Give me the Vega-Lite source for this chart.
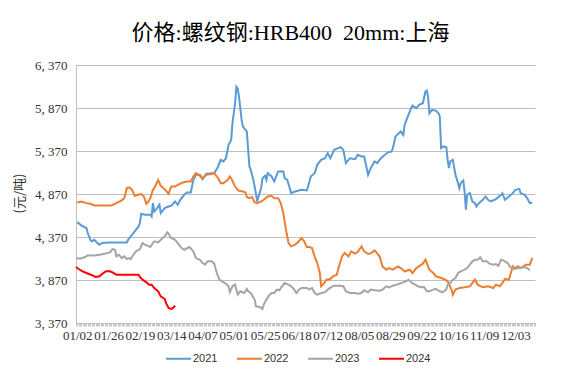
{
"$schema": "https://vega.github.io/schema/vega-lite/v6.json",
"width": 459, "height": 258,
"autosize": {"type": "none"},
"padding": {"left": 76, "top": 65, "right": 44, "bottom": 52},
"background": "white",
"title": {"text": "价格:螺纹钢:HRB400\u00a0\u00a020mm:上海", "font": "Liberation Serif, Noto Sans CJK SC", "fontSize": 22, "fontWeight": "normal", "color": "#000000", "anchor": "middle", "frame": "group", "offset": 14, "dx": -15},
"config": {"view": {"stroke": null}},
"data": {"values": [
{"year":"2021","md":"2024-01-02","price":4543},{"year":"2021","md":"2024-01-05","price":4505},{"year":"2021","md":"2024-01-09","price":4474},{"year":"2021","md":"2024-01-10","price":4416},{"year":"2021","md":"2024-01-12","price":4338},{"year":"2021","md":"2024-01-13","price":4319},{"year":"2021","md":"2024-01-15","price":4338},{"year":"2021","md":"2024-01-17","price":4307},{"year":"2021","md":"2024-01-19","price":4280},{"year":"2021","md":"2024-01-21","price":4300},{"year":"2021","md":"2024-01-27","price":4307},{"year":"2021","md":"2024-02-09","price":4307},{"year":"2021","md":"2024-02-10","price":4338},{"year":"2021","md":"2024-02-14","price":4416},{"year":"2021","md":"2024-02-18","price":4493},{"year":"2021","md":"2024-02-19","price":4532},{"year":"2021","md":"2024-02-20","price":4640},{"year":"2021","md":"2024-02-23","price":4629},{"year":"2021","md":"2024-02-27","price":4629},{"year":"2021","md":"2024-02-28","price":4609},{"year":"2021","md":"2024-02-29","price":4764},{"year":"2021","md":"2024-03-01","price":4667},{"year":"2021","md":"2024-03-03","price":4700},{"year":"2021","md":"2024-03-05","price":4745},{"year":"2021","md":"2024-03-06","price":4648},{"year":"2021","md":"2024-03-09","price":4706},{"year":"2021","md":"2024-03-12","price":4725},{"year":"2021","md":"2024-03-14","price":4733},{"year":"2021","md":"2024-03-17","price":4783},{"year":"2021","md":"2024-03-19","price":4745},{"year":"2021","md":"2024-03-21","price":4803},{"year":"2021","md":"2024-03-24","price":4861},{"year":"2021","md":"2024-03-26","price":4888},{"year":"2021","md":"2024-03-29","price":4888},{"year":"2021","md":"2024-03-31","price":5035},{"year":"2021","md":"2024-04-02","price":5093},{"year":"2021","md":"2024-04-05","price":5093},{"year":"2021","md":"2024-04-07","price":5043},{"year":"2021","md":"2024-04-10","price":5105},{"year":"2021","md":"2024-04-14","price":5112},{"year":"2021","md":"2024-04-16","price":5112},{"year":"2021","md":"2024-04-19","price":5190},{"year":"2021","md":"2024-04-21","price":5267},{"year":"2021","md":"2024-04-23","price":5248},{"year":"2021","md":"2024-04-25","price":5286},{"year":"2021","md":"2024-04-27","price":5441},{"year":"2021","md":"2024-04-29","price":5499},{"year":"2021","md":"2024-04-30","price":5693},{"year":"2021","md":"2024-05-02","price":5925},{"year":"2021","md":"2024-05-03","price":6118},{"year":"2021","md":"2024-05-04","price":6099},{"year":"2021","md":"2024-05-05","price":6002},{"year":"2021","md":"2024-05-07","price":5731},{"year":"2021","md":"2024-05-08","price":5654},{"year":"2021","md":"2024-05-10","price":5615},{"year":"2021","md":"2024-05-11","price":5596},{"year":"2021","md":"2024-05-13","price":5190},{"year":"2021","md":"2024-05-14","price":5151},{"year":"2021","md":"2024-05-16","price":5035},{"year":"2021","md":"2024-05-17","price":4957},{"year":"2021","md":"2024-05-19","price":4783},{"year":"2021","md":"2024-05-20","price":4841},{"year":"2021","md":"2024-05-22","price":4938},{"year":"2021","md":"2024-05-23","price":5054},{"year":"2021","md":"2024-05-25","price":5081},{"year":"2021","md":"2024-05-26","price":5035},{"year":"2021","md":"2024-05-27","price":5112},{"year":"2021","md":"2024-05-30","price":5074},{"year":"2021","md":"2024-06-01","price":5016},{"year":"2021","md":"2024-06-04","price":5132},{"year":"2021","md":"2024-06-08","price":5132},{"year":"2021","md":"2024-06-09","price":5054},{"year":"2021","md":"2024-06-11","price":5035},{"year":"2021","md":"2024-06-14","price":4880},{"year":"2021","md":"2024-06-17","price":4899},{"year":"2021","md":"2024-06-22","price":4919},{"year":"2021","md":"2024-06-26","price":4911},{"year":"2021","md":"2024-06-27","price":4957},{"year":"2021","md":"2024-06-29","price":5074},{"year":"2021","md":"2024-07-02","price":5112},{"year":"2021","md":"2024-07-04","price":5209},{"year":"2021","md":"2024-07-07","price":5267},{"year":"2021","md":"2024-07-10","price":5286},{"year":"2021","md":"2024-07-12","price":5345},{"year":"2021","md":"2024-07-14","price":5286},{"year":"2021","md":"2024-07-17","price":5383},{"year":"2021","md":"2024-07-20","price":5403},{"year":"2021","md":"2024-07-22","price":5414},{"year":"2021","md":"2024-07-24","price":5383},{"year":"2021","md":"2024-07-26","price":5229},{"year":"2021","md":"2024-07-29","price":5286},{"year":"2021","md":"2024-08-02","price":5275},{"year":"2021","md":"2024-08-04","price":5325},{"year":"2021","md":"2024-08-07","price":5306},{"year":"2021","md":"2024-08-09","price":5306},{"year":"2021","md":"2024-08-12","price":5093},{"year":"2021","md":"2024-08-14","price":5171},{"year":"2021","md":"2024-08-17","price":5248},{"year":"2021","md":"2024-08-19","price":5229},{"year":"2021","md":"2024-08-22","price":5290},{"year":"2021","md":"2024-08-27","price":5352},{"year":"2021","md":"2024-08-30","price":5364},{"year":"2021","md":"2024-08-31","price":5403},{"year":"2021","md":"2024-09-02","price":5538},{"year":"2021","md":"2024-09-04","price":5569},{"year":"2021","md":"2024-09-06","price":5596},{"year":"2021","md":"2024-09-08","price":5557},{"year":"2021","md":"2024-09-09","price":5673},{"year":"2021","md":"2024-09-11","price":5751},{"year":"2021","md":"2024-09-14","price":5867},{"year":"2021","md":"2024-09-15","price":5898},{"year":"2021","md":"2024-09-18","price":5867},{"year":"2021","md":"2024-09-20","price":5906},{"year":"2021","md":"2024-09-23","price":5925},{"year":"2021","md":"2024-09-25","price":6060},{"year":"2021","md":"2024-09-26","price":6072},{"year":"2021","md":"2024-09-27","price":6002},{"year":"2021","md":"2024-09-28","price":5809},{"year":"2021","md":"2024-09-30","price":5848},{"year":"2021","md":"2024-10-03","price":5840},{"year":"2021","md":"2024-10-05","price":5809},{"year":"2021","md":"2024-10-06","price":5770},{"year":"2021","md":"2024-10-07","price":5403},{"year":"2021","md":"2024-10-09","price":5423},{"year":"2021","md":"2024-10-11","price":5414},{"year":"2021","md":"2024-10-12","price":5267},{"year":"2021","md":"2024-10-13","price":5171},{"year":"2021","md":"2024-10-14","price":5248},{"year":"2021","md":"2024-10-16","price":5267},{"year":"2021","md":"2024-10-18","price":5093},{"year":"2021","md":"2024-10-20","price":4996},{"year":"2021","md":"2024-10-21","price":4938},{"year":"2021","md":"2024-10-22","price":4996},{"year":"2021","md":"2024-10-24","price":5027},{"year":"2021","md":"2024-10-25","price":4899},{"year":"2021","md":"2024-10-26","price":4687},{"year":"2021","md":"2024-10-27","price":4861},{"year":"2021","md":"2024-10-29","price":4880},{"year":"2021","md":"2024-10-31","price":4783},{"year":"2021","md":"2024-11-02","price":4764},{"year":"2021","md":"2024-11-03","price":4725},{"year":"2021","md":"2024-11-05","price":4764},{"year":"2021","md":"2024-11-08","price":4803},{"year":"2021","md":"2024-11-10","price":4841},{"year":"2021","md":"2024-11-12","price":4803},{"year":"2021","md":"2024-11-14","price":4783},{"year":"2021","md":"2024-11-17","price":4803},{"year":"2021","md":"2024-11-19","price":4822},{"year":"2021","md":"2024-11-22","price":4861},{"year":"2021","md":"2024-11-23","price":4880},{"year":"2021","md":"2024-11-25","price":4803},{"year":"2021","md":"2024-11-28","price":4841},{"year":"2021","md":"2024-12-01","price":4880},{"year":"2021","md":"2024-12-03","price":4919},{"year":"2021","md":"2024-12-06","price":4930},{"year":"2021","md":"2024-12-07","price":4880},{"year":"2021","md":"2024-12-10","price":4861},{"year":"2021","md":"2024-12-12","price":4822},{"year":"2021","md":"2024-12-14","price":4764},{"year":"2021","md":"2024-12-16","price":4771},
{"year":"2022","md":"2024-01-02","price":4772},{"year":"2022","md":"2024-01-05","price":4783},{"year":"2022","md":"2024-01-09","price":4764},{"year":"2022","md":"2024-01-12","price":4756},{"year":"2022","md":"2024-01-15","price":4737},{"year":"2022","md":"2024-01-28","price":4737},{"year":"2022","md":"2024-02-01","price":4764},{"year":"2022","md":"2024-02-05","price":4795},{"year":"2022","md":"2024-02-07","price":4822},{"year":"2022","md":"2024-02-09","price":4938},{"year":"2022","md":"2024-02-11","price":4946},{"year":"2022","md":"2024-02-13","price":4919},{"year":"2022","md":"2024-02-15","price":4849},{"year":"2022","md":"2024-02-18","price":4861},{"year":"2022","md":"2024-02-20","price":4872},{"year":"2022","md":"2024-02-22","price":4841},{"year":"2022","md":"2024-02-24","price":4756},{"year":"2022","md":"2024-02-25","price":4772},{"year":"2022","md":"2024-02-27","price":4822},{"year":"2022","md":"2024-02-29","price":4919},{"year":"2022","md":"2024-03-01","price":4938},{"year":"2022","md":"2024-03-04","price":5035},{"year":"2022","md":"2024-03-06","price":4965},{"year":"2022","md":"2024-03-09","price":4926},{"year":"2022","md":"2024-03-12","price":4872},{"year":"2022","md":"2024-03-14","price":4957},{"year":"2022","md":"2024-03-17","price":4957},{"year":"2022","md":"2024-03-19","price":4977},{"year":"2022","md":"2024-03-23","price":5004},{"year":"2022","md":"2024-03-26","price":5016},{"year":"2022","md":"2024-03-29","price":5016},{"year":"2022","md":"2024-03-31","price":5074},{"year":"2022","md":"2024-04-02","price":5112},{"year":"2022","md":"2024-04-05","price":5081},{"year":"2022","md":"2024-04-07","price":5054},{"year":"2022","md":"2024-04-10","price":5093},{"year":"2022","md":"2024-04-14","price":5101},{"year":"2022","md":"2024-04-16","price":5112},{"year":"2022","md":"2024-04-19","price":5054},{"year":"2022","md":"2024-04-21","price":4996},{"year":"2022","md":"2024-04-23","price":4996},{"year":"2022","md":"2024-04-26","price":5030},{"year":"2022","md":"2024-04-28","price":5074},{"year":"2022","md":"2024-04-29","price":5054},{"year":"2022","md":"2024-05-02","price":4957},{"year":"2022","md":"2024-05-04","price":4919},{"year":"2022","md":"2024-05-05","price":4907},{"year":"2022","md":"2024-05-08","price":4899},{"year":"2022","md":"2024-05-10","price":4888},{"year":"2022","md":"2024-05-11","price":4834},{"year":"2022","md":"2024-05-13","price":4822},{"year":"2022","md":"2024-05-15","price":4834},{"year":"2022","md":"2024-05-17","price":4772},{"year":"2022","md":"2024-05-19","price":4764},{"year":"2022","md":"2024-05-22","price":4783},{"year":"2022","md":"2024-05-24","price":4803},{"year":"2022","md":"2024-05-27","price":4841},{"year":"2022","md":"2024-05-30","price":4849},{"year":"2022","md":"2024-06-01","price":4822},{"year":"2022","md":"2024-06-04","price":4822},{"year":"2022","md":"2024-06-06","price":4764},{"year":"2022","md":"2024-06-08","price":4648},{"year":"2022","md":"2024-06-10","price":4454},{"year":"2022","md":"2024-06-12","price":4300},{"year":"2022","md":"2024-06-14","price":4261},{"year":"2022","md":"2024-06-17","price":4280},{"year":"2022","md":"2024-06-19","price":4307},{"year":"2022","md":"2024-06-22","price":4358},{"year":"2022","md":"2024-06-24","price":4319},{"year":"2022","md":"2024-06-26","price":4253},{"year":"2022","md":"2024-06-28","price":4253},{"year":"2022","md":"2024-06-30","price":4241},{"year":"2022","md":"2024-07-02","price":4145},{"year":"2022","md":"2024-07-04","price":4067},{"year":"2022","md":"2024-07-06","price":3951},{"year":"2022","md":"2024-07-07","price":3797},{"year":"2022","md":"2024-07-09","price":3827},{"year":"2022","md":"2024-07-11","price":3874},{"year":"2022","md":"2024-07-14","price":3882},{"year":"2022","md":"2024-07-16","price":3913},{"year":"2022","md":"2024-07-19","price":3932},{"year":"2022","md":"2024-07-21","price":4048},{"year":"2022","md":"2024-07-23","price":4145},{"year":"2022","md":"2024-07-25","price":4184},{"year":"2022","md":"2024-07-28","price":4145},{"year":"2022","md":"2024-07-30","price":4203},{"year":"2022","md":"2024-08-02","price":4176},{"year":"2022","md":"2024-08-04","price":4195},{"year":"2022","md":"2024-08-07","price":4261},{"year":"2022","md":"2024-08-09","price":4203},{"year":"2022","md":"2024-08-12","price":4172},{"year":"2022","md":"2024-08-14","price":4180},{"year":"2022","md":"2024-08-17","price":4214},{"year":"2022","md":"2024-08-19","price":4180},{"year":"2022","md":"2024-08-21","price":4140},{"year":"2022","md":"2024-08-23","price":4029},{"year":"2022","md":"2024-08-26","price":3990},{"year":"2022","md":"2024-08-28","price":4009},{"year":"2022","md":"2024-08-31","price":3990},{"year":"2022","md":"2024-09-04","price":4029},{"year":"2022","md":"2024-09-06","price":4009},{"year":"2022","md":"2024-09-09","price":3971},{"year":"2022","md":"2024-09-13","price":3990},{"year":"2022","md":"2024-09-15","price":3951},{"year":"2022","md":"2024-09-18","price":4009},{"year":"2022","md":"2024-09-20","price":4029},{"year":"2022","md":"2024-09-23","price":4060},{"year":"2022","md":"2024-09-25","price":4106},{"year":"2022","md":"2024-09-27","price":4029},{"year":"2022","md":"2024-09-28","price":3990},{"year":"2022","md":"2024-10-01","price":3951},{"year":"2022","md":"2024-10-03","price":3913},{"year":"2022","md":"2024-10-07","price":3893},{"year":"2022","md":"2024-10-10","price":3874},{"year":"2022","md":"2024-10-12","price":3855},{"year":"2022","md":"2024-10-15","price":3758},{"year":"2022","md":"2024-10-16","price":3700},{"year":"2022","md":"2024-10-18","price":3758},{"year":"2022","md":"2024-10-21","price":3777},{"year":"2022","md":"2024-10-25","price":3785},{"year":"2022","md":"2024-10-29","price":3797},{"year":"2022","md":"2024-11-02","price":3874},{"year":"2022","md":"2024-11-04","price":3816},{"year":"2022","md":"2024-11-08","price":3785},{"year":"2022","md":"2024-11-12","price":3797},{"year":"2022","md":"2024-11-16","price":3777},{"year":"2022","md":"2024-11-18","price":3816},{"year":"2022","md":"2024-11-21","price":3797},{"year":"2022","md":"2024-11-23","price":3835},{"year":"2022","md":"2024-11-25","price":3882},{"year":"2022","md":"2024-11-28","price":3874},{"year":"2022","md":"2024-12-01","price":4029},{"year":"2022","md":"2024-12-02","price":4009},{"year":"2022","md":"2024-12-05","price":4029},{"year":"2022","md":"2024-12-07","price":4009},{"year":"2022","md":"2024-12-11","price":4048},{"year":"2022","md":"2024-12-14","price":4048},{"year":"2022","md":"2024-12-15","price":4087},{"year":"2022","md":"2024-12-16","price":4126},
{"year":"2023","md":"2024-01-01","price":4125},{"year":"2023","md":"2024-01-04","price":4118},{"year":"2023","md":"2024-01-08","price":4137},{"year":"2023","md":"2024-01-10","price":4156},{"year":"2023","md":"2024-01-15","price":4156},{"year":"2023","md":"2024-01-19","price":4164},{"year":"2023","md":"2024-01-23","price":4176},{"year":"2023","md":"2024-01-27","price":4191},{"year":"2023","md":"2024-01-29","price":4230},{"year":"2023","md":"2024-01-31","price":4222},{"year":"2023","md":"2024-02-01","price":4145},{"year":"2023","md":"2024-02-03","price":4164},{"year":"2023","md":"2024-02-05","price":4125},{"year":"2023","md":"2024-02-07","price":4145},{"year":"2023","md":"2024-02-09","price":4114},{"year":"2023","md":"2024-02-11","price":4125},{"year":"2023","md":"2024-02-12","price":4114},{"year":"2023","md":"2024-02-14","price":4164},{"year":"2023","md":"2024-02-16","price":4203},{"year":"2023","md":"2024-02-19","price":4230},{"year":"2023","md":"2024-02-21","price":4300},{"year":"2023","md":"2024-02-23","price":4280},{"year":"2023","md":"2024-02-25","price":4269},{"year":"2023","md":"2024-02-27","price":4253},{"year":"2023","md":"2024-02-29","price":4300},{"year":"2023","md":"2024-03-01","price":4319},{"year":"2023","md":"2024-03-04","price":4307},{"year":"2023","md":"2024-03-06","price":4338},{"year":"2023","md":"2024-03-09","price":4377},{"year":"2023","md":"2024-03-11","price":4423},{"year":"2023","md":"2024-03-12","price":4408},{"year":"2023","md":"2024-03-14","price":4358},{"year":"2023","md":"2024-03-17","price":4338},{"year":"2023","md":"2024-03-19","price":4300},{"year":"2023","md":"2024-03-22","price":4241},{"year":"2023","md":"2024-03-24","price":4222},{"year":"2023","md":"2024-03-28","price":4253},{"year":"2023","md":"2024-03-31","price":4203},{"year":"2023","md":"2024-04-02","price":4125},{"year":"2023","md":"2024-04-05","price":4106},{"year":"2023","md":"2024-04-07","price":4067},{"year":"2023","md":"2024-04-09","price":4048},{"year":"2023","md":"2024-04-11","price":4087},{"year":"2023","md":"2024-04-14","price":4087},{"year":"2023","md":"2024-04-16","price":4060},{"year":"2023","md":"2024-04-18","price":3951},{"year":"2023","md":"2024-04-20","price":3874},{"year":"2023","md":"2024-04-22","price":3855},{"year":"2023","md":"2024-04-25","price":3827},{"year":"2023","md":"2024-04-27","price":3797},{"year":"2023","md":"2024-04-28","price":3730},{"year":"2023","md":"2024-04-30","price":3797},{"year":"2023","md":"2024-05-02","price":3816},{"year":"2023","md":"2024-05-03","price":3758},{"year":"2023","md":"2024-05-04","price":3700},{"year":"2023","md":"2024-05-06","price":3739},{"year":"2023","md":"2024-05-09","price":3719},{"year":"2023","md":"2024-05-11","price":3766},{"year":"2023","md":"2024-05-12","price":3739},{"year":"2023","md":"2024-05-14","price":3719},{"year":"2023","md":"2024-05-17","price":3642},{"year":"2023","md":"2024-05-18","price":3564},{"year":"2023","md":"2024-05-21","price":3557},{"year":"2023","md":"2024-05-23","price":3533},{"year":"2023","md":"2024-05-24","price":3584},{"year":"2023","md":"2024-05-26","price":3642},{"year":"2023","md":"2024-05-28","price":3688},{"year":"2023","md":"2024-05-30","price":3719},{"year":"2023","md":"2024-06-01","price":3719},{"year":"2023","md":"2024-06-03","price":3758},{"year":"2023","md":"2024-06-05","price":3750},{"year":"2023","md":"2024-06-07","price":3797},{"year":"2023","md":"2024-06-09","price":3835},{"year":"2023","md":"2024-06-12","price":3816},{"year":"2023","md":"2024-06-14","price":3797},{"year":"2023","md":"2024-06-16","price":3766},{"year":"2023","md":"2024-06-18","price":3719},{"year":"2023","md":"2024-06-20","price":3758},{"year":"2023","md":"2024-06-22","price":3777},{"year":"2023","md":"2024-06-26","price":3777},{"year":"2023","md":"2024-06-28","price":3758},{"year":"2023","md":"2024-06-30","price":3777},{"year":"2023","md":"2024-07-02","price":3719},{"year":"2023","md":"2024-07-04","price":3700},{"year":"2023","md":"2024-07-07","price":3719},{"year":"2023","md":"2024-07-10","price":3727},{"year":"2023","md":"2024-07-12","price":3758},{"year":"2023","md":"2024-07-15","price":3789},{"year":"2023","md":"2024-07-17","price":3804},{"year":"2023","md":"2024-07-21","price":3804},{"year":"2023","md":"2024-07-24","price":3797},{"year":"2023","md":"2024-07-26","price":3739},{"year":"2023","md":"2024-07-29","price":3719},{"year":"2023","md":"2024-08-02","price":3719},{"year":"2023","md":"2024-08-04","price":3711},{"year":"2023","md":"2024-08-07","price":3719},{"year":"2023","md":"2024-08-09","price":3750},{"year":"2023","md":"2024-08-12","price":3727},{"year":"2023","md":"2024-08-14","price":3758},{"year":"2023","md":"2024-08-17","price":3750},{"year":"2023","md":"2024-08-21","price":3745},{"year":"2023","md":"2024-08-23","price":3758},{"year":"2023","md":"2024-08-26","price":3797},{"year":"2023","md":"2024-08-28","price":3785},{"year":"2023","md":"2024-08-31","price":3804},{"year":"2023","md":"2024-09-03","price":3816},{"year":"2023","md":"2024-09-05","price":3827},{"year":"2023","md":"2024-09-08","price":3843},{"year":"2023","md":"2024-09-10","price":3855},{"year":"2023","md":"2024-09-12","price":3874},{"year":"2023","md":"2024-09-14","price":3843},{"year":"2023","md":"2024-09-17","price":3816},{"year":"2023","md":"2024-09-19","price":3797},{"year":"2023","md":"2024-09-22","price":3785},{"year":"2023","md":"2024-09-24","price":3789},{"year":"2023","md":"2024-09-26","price":3739},{"year":"2023","md":"2024-09-28","price":3739},{"year":"2023","md":"2024-10-01","price":3758},{"year":"2023","md":"2024-10-03","price":3766},{"year":"2023","md":"2024-10-06","price":3739},{"year":"2023","md":"2024-10-08","price":3727},{"year":"2023","md":"2024-10-11","price":3758},{"year":"2023","md":"2024-10-12","price":3816},{"year":"2023","md":"2024-10-14","price":3835},{"year":"2023","md":"2024-10-16","price":3874},{"year":"2023","md":"2024-10-18","price":3893},{"year":"2023","md":"2024-10-20","price":3951},{"year":"2023","md":"2024-10-22","price":3971},{"year":"2023","md":"2024-10-25","price":3990},{"year":"2023","md":"2024-10-27","price":4009},{"year":"2023","md":"2024-10-29","price":4048},{"year":"2023","md":"2024-10-31","price":4087},{"year":"2023","md":"2024-11-02","price":4106},{"year":"2023","md":"2024-11-04","price":4106},{"year":"2023","md":"2024-11-06","price":4133},{"year":"2023","md":"2024-11-08","price":4087},{"year":"2023","md":"2024-11-11","price":4087},{"year":"2023","md":"2024-11-13","price":4060},{"year":"2023","md":"2024-11-16","price":4048},{"year":"2023","md":"2024-11-18","price":4055},{"year":"2023","md":"2024-11-20","price":4036},{"year":"2023","md":"2024-11-22","price":4106},{"year":"2023","md":"2024-11-24","price":4095},{"year":"2023","md":"2024-11-27","price":4067},{"year":"2023","md":"2024-11-29","price":4021},{"year":"2023","md":"2024-12-02","price":3998},{"year":"2023","md":"2024-12-05","price":4009},{"year":"2023","md":"2024-12-07","price":4009},{"year":"2023","md":"2024-12-10","price":4021},{"year":"2023","md":"2024-12-12","price":4009},{"year":"2023","md":"2024-12-14","price":3982},
{"year":"2024","md":"2024-01-01","price":4021},{"year":"2024","md":"2024-01-03","price":3998},{"year":"2024","md":"2024-01-06","price":3971},{"year":"2024","md":"2024-01-09","price":3951},{"year":"2024","md":"2024-01-11","price":3940},{"year":"2024","md":"2024-01-14","price":3920},{"year":"2024","md":"2024-01-16","price":3905},{"year":"2024","md":"2024-01-19","price":3913},{"year":"2024","md":"2024-01-21","price":3940},{"year":"2024","md":"2024-01-24","price":3971},{"year":"2024","md":"2024-01-27","price":3971},{"year":"2024","md":"2024-01-29","price":3959},{"year":"2024","md":"2024-02-01","price":3932},{"year":"2024","md":"2024-02-18","price":3932},{"year":"2024","md":"2024-02-19","price":3905},{"year":"2024","md":"2024-02-21","price":3874},{"year":"2024","md":"2024-02-24","price":3843},{"year":"2024","md":"2024-02-26","price":3816},{"year":"2024","md":"2024-02-28","price":3816},{"year":"2024","md":"2024-03-01","price":3777},{"year":"2024","md":"2024-03-04","price":3739},{"year":"2024","md":"2024-03-06","price":3680},{"year":"2024","md":"2024-03-09","price":3649},{"year":"2024","md":"2024-03-10","price":3603},{"year":"2024","md":"2024-03-12","price":3545},{"year":"2024","md":"2024-03-14","price":3533},{"year":"2024","md":"2024-03-15","price":3540},{"year":"2024","md":"2024-03-17","price":3572}
]},
"mark": {"type": "line", "interpolate": "linear"},
"encoding": {
"x": {"field": "md", "type": "temporal",
 "scale": {"type": "utc", "domain": [{"year": 2024, "month": 1, "date": 1, "utc": true}, {"year": 2024, "month": 12, "date": 18, "utc": true}]},
 "axis": {"title": null, "tickCount": {"interval": "day", "step": 1}, "labelExpr": "(round((datum.value - utc(2024,0,2)) / 86400000) % 24 === 0) ? utcFormat(datum.value, '%m/%d') : ''", "labelOverlap": false, "labelFlush": false, "labelBound": false, "labelFont": "Liberation Serif", "labelFontSize": 13, "labelColor": "#333333", "labelPadding": 3, "tickSize": 3, "tickColor": "#c8c8c8", "domainColor": "#bfbfbf", "grid": false}},
"y": {"field": "price", "type": "quantitative",
 "scale": {"domain": [3370, 6370], "nice": false, "zero": false},
 "axis": {"title": "(元/吨)", "values": [3370, 3870, 4370, 4870, 5370, 5870, 6370], "labelExpr": "replace(format(datum.value, ','), ',', ', ')", "labelFont": "Liberation Serif", "labelFontSize": 13, "labelColor": "#333333", "ticks": false, "tickSize": 0, "labelPadding": 9, "domainColor": "#bfbfbf", "gridColor": "#bfbfbf", "titleFont": "Noto Sans CJK SC", "titleFontSize": 13, "titleFontWeight": "normal", "titleColor": "#333333", "titleX": -57, "titleY": 128, "titleAlign": "center", "titleBaseline": "middle", "titleAngle": -90}},
"color": {"field": "year", "type": "nominal",
 "scale": {"domain": ["2021", "2022", "2023", "2024"], "range": ["#5B9BD5", "#ED7D31", "#A5A5A5", "#FF0000"]},
 "legend": {"orient": "none", "legendX": 89, "legendY": 280, "direction": "horizontal", "title": null, "symbolType": "stroke", "symbolSize": 625, "symbolStrokeWidth": 2.5, "labelFont": "Liberation Sans", "labelFontSize": 11, "labelColor": "#333333", "columnPadding": 15, "labelOffset": 1}},
"strokeWidth": {"field": "year", "type": "ordinal", "scale": {"domain": ["2021", "2022", "2023", "2024"], "range": [2, 2, 2, 3]}, "legend": null}
}
}
